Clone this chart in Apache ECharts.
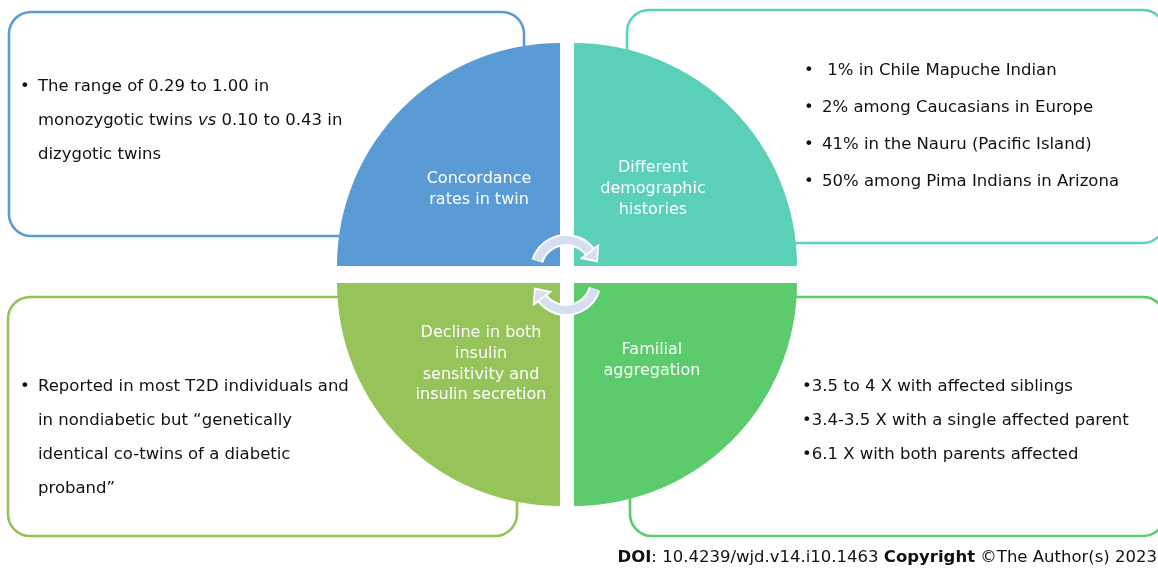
<!DOCTYPE html>
<html><head><meta charset="utf-8">
<script src="https://cdn.jsdelivr.net/npm/echarts@6/dist/echarts.min.js"></script>
<style>html,body{margin:0;padding:0;background:#fff}#c{width:1158px;height:569px}</style>
</head><body><div id="c"></div>
<script>
// ---- data ----
const categories = ['Concordance\nrates in twin', 'Different\ndemographic\nhistories', 'Familial\naggregation', 'Decline in both\ninsulin\nsensitivity and\ninsulin secretion'];
const shares = [1, 1, 1, 1];
const twinNotes = ['The range of 0.29 to 1.00 in', 'monozygotic twins {i|vs} 0.10 to 0.43 in', 'dizygotic twins'];
const demographicNotes = [' 1% in Chile Mapuche Indian', '2% among Caucasians in Europe', '41% in the Nauru (Pacific Island)', '50% among Pima Indians in Arizona'];
const familialNotes = ['3.5 to 4 X with affected siblings', '3.4-3.5 X with a single affected parent', '6.1 X with both parents affected'];
const declineNotes = ['Reported in most T2D individuals and', 'in nondiabetic but \u201cgenetically', 'identical co-twins of a diabetic', 'proband\u201d'];
const footer = '{b|DOI}: 10.4239/wjd.v14.i10.1463 {b|Copyright} \u00a9The Author(s) 2023';

// ---- styling ----
const FONT = '"DejaVu Sans", Verdana, sans-serif';
const quadColors = ['#5B9BD5', '#5AD0B9', '#5BCB6B', '#97C45A'];
const boxColors = ['#5B9BD5', '#5ED0B9', '#5BCB6B', '#92C456'];
const centers = [[560, 266], [574, 266], [574, 283], [560, 283]];
const startAngles = [180, 90, 0, 270];
const labelOffsets = [[0, 4], [-2, 4], [-3, -4], [2, 0]];
const R = 223;
const total = shares.reduce((a, b) => a + b, 0);

const series = categories.map((name, i) => ({
  type: 'pie',
  center: centers[i],
  radius: [0, R],
  startAngle: startAngles[i],
  clockwise: true,
  silent: true,
  avoidLabelOverlap: false,
  label: { show: true, position: 'inside', color: '#fff', fontFamily: FONT, fontSize: 16, lineHeight: 20.8, align: 'center', offset: labelOffsets[i] },
  labelLine: { show: false },
  emphasis: { disabled: true },
  data: [
    { value: shares[i], name: name, itemStyle: { color: quadColors[i] } },
    { value: total - shares[i], name: '', itemStyle: { color: 'rgba(0,0,0,0)' }, label: { show: false } }
  ]
}));

const graphics = [];
// outlined rounded boxes behind the circle
const boxes = [
  { x: 9, y: 12, w: 515, h: 224, c: boxColors[0] },
  { x: 627, y: 10, w: 538, h: 233, c: boxColors[1] },
  { x: 8, y: 297, w: 509, h: 239, c: boxColors[3] },
  { x: 630, y: 297, w: 535, h: 239, c: boxColors[2] }
];
boxes.forEach(b => graphics.push({
  type: 'rect', z: 0, silent: true,
  shape: { x: b.x, y: b.y, width: b.w, height: b.h, r: 22 },
  style: { fill: '#fff', stroke: b.c, lineWidth: 2.6 }
}));

const FS = 16.5;
function addLines(lines, x, y0, dy, bulletX, bulletAll) {
  lines.forEach((t, k) => {
    graphics.push({
      type: 'text', z: 100, silent: true, x: x, y: y0 + k * dy,
      style: { text: t, fontFamily: FONT, fontSize: FS, fill: '#111', verticalAlign: 'middle', align: 'left',
        rich: { i: { fontStyle: 'italic', fontFamily: FONT, fontSize: FS, fill: '#111' } } }
    });
    if (bulletX != null && (bulletAll || k === 0)) {
      graphics.push({
        type: 'text', z: 100, silent: true, x: bulletX, y: y0 + k * dy,
        style: { text: '\u2022', fontFamily: FONT, fontSize: FS, fill: '#111', verticalAlign: 'middle', align: 'left' }
      });
    }
  });
}
addLines(twinNotes, 38, 87, 34, 20, false);
addLines(demographicNotes, 822, 71, 37, 804, true);
addLines(declineNotes, 38, 387, 34, 20, false);
addLines(familialNotes.map(t => '\u2022' + t), 802, 387, 34, null, false);

// circular arrows
function arrow(cx, cy, r, a0, a1) {
  const P = [cx + r * Math.cos(a1), cy + r * Math.sin(a1)];
  const t = [-Math.sin(a1), Math.cos(a1)];
  const n = [Math.cos(a1), Math.sin(a1)];
  const hw = 10.5, hl = 12;
  const pts = [
    [P[0] + n[0] * hw, P[1] + n[1] * hw],
    [P[0] + t[0] * hl, P[1] + t[1] * hl],
    [P[0] - n[0] * hw, P[1] - n[1] * hw]
  ];
  graphics.push({ type: 'arc', z: 100, silent: true, shape: { cx, cy, r, startAngle: a0, endAngle: a1, clockwise: true },
    style: { stroke: '#ffffff', lineWidth: 12, fill: null } });
  graphics.push({ type: 'polygon', z: 100, silent: true, shape: { points: pts },
    style: { fill: '#D5DFF1', stroke: '#ffffff', lineWidth: 1.8 } });
  graphics.push({ type: 'arc', z: 101, silent: true, shape: { cx, cy, r, startAngle: a0, endAngle: a1 - 0.02, clockwise: true },
    style: { stroke: '#D5DFF1', lineWidth: 8, fill: null } });
}
arrow(566, 270, 30, Math.PI + 0.3, 2 * Math.PI - 0.65);
arrow(566, 280, 30, 0.3, Math.PI - 0.65);

graphics.push({
  type: 'text', z: 100, silent: true, x: 1157, y: 558,
  style: { text: footer, fontFamily: FONT, fontSize: 16.5, fill: '#111', align: 'right', verticalAlign: 'middle',
    rich: { b: { fontWeight: 'bold', fontFamily: FONT, fontSize: 16.5, fill: '#111' } } }
});

const chart = echarts.init(document.getElementById('c'), null, { renderer: 'canvas' });
chart.setOption({
  animation: false,
  backgroundColor: '#fff',
  series: series,
  graphic: { elements: graphics }
});
</script></body></html>
